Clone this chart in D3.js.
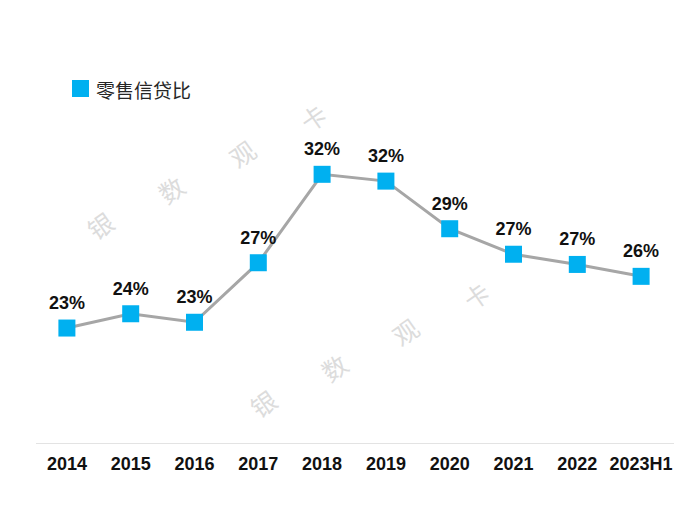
<!DOCTYPE html>
<html><head><meta charset="utf-8">
<script src="https://cdn.jsdelivr.net/npm/d3@7"></script>
<style>body{margin:0;background:#fff}svg{display:block}</style>
</head><body>
<svg id="c" width="700" height="525"></svg>
<script>
const categories = ["2014","2015","2016","2017","2018","2019","2020","2021","2022","2023H1"];
const ratioValues = [23.06, 23.9, 23.4, 26.9, 32.1, 31.7, 28.9, 27.4, 26.8, 26.1];
const seriesName = "零售信贷比";
const watermarkChars = ["银","数","观","卡"];

const svg = d3.select("#c");
const x = d3.scaleBand().domain(categories).range([35, 673]);
const y = d3.scaleLinear().domain([16.3, 34]).range([443, 142]);
const cx = d => x(d) + x.bandwidth()/2;

// watermark
const wmGroups = [{x0:100,y0:225},{x0:263,y0:403}];
wmGroups.forEach(g=>{
  watermarkChars.forEach((ch,i)=>{
    const px = g.x0 + i*71, py = g.y0 - i*36;
    svg.append("text").attr("transform",`translate(${px},${py}) rotate(-35)`)
      .attr("text-anchor","middle").attr("dominant-baseline","central")
      .attr("font-family","Noto Sans CJK SC").attr("font-size",25)
      .attr("fill","#dcdcdc").text(ch);
  });
});

// baseline axis
const xAxis = d3.axisBottom(x).tickSize(0).tickPadding(14);
const ax = svg.append("g").attr("transform","translate(0,443)").call(xAxis);
ax.select(".domain").attr("stroke","#e3e3e3").attr("stroke-width",1.2).attr("d","M36,0.5H674");
ax.selectAll("text").attr("font-family","Liberation Sans").attr("font-weight","bold")
  .attr("font-size",18).attr("fill","#111");

// line
const data = categories.map((c,i)=>({c,v:ratioValues[i]}));
svg.append("path").datum(data).attr("fill","none").attr("stroke","#a6a6a6").attr("stroke-width",3)
  .attr("d", d3.line().x(d=>cx(d.c)).y(d=>y(d.v)));

// markers
const s = 17;
svg.selectAll("rect.m").data(data).join("rect").attr("class","m")
  .attr("x",d=>cx(d.c)-s/2).attr("y",d=>y(d.v)-s/2).attr("width",s).attr("height",s)
  .attr("fill","#00b0f0");

// labels
svg.selectAll("text.l").data(data).join("text").attr("class","l")
  .attr("x",d=>cx(d.c)).attr("y",d=>y(d.v)-19)
  .attr("text-anchor","middle").attr("font-family","Liberation Sans").attr("font-weight","bold")
  .attr("font-size",18).attr("fill","#111").text(d=>d3.format(".0f")(d.v)+"%");

// legend
svg.append("rect").attr("x",72).attr("y",80).attr("width",17).attr("height",17).attr("fill","#00b0f0");
svg.append("text").attr("x",96).attr("y",89).attr("dominant-baseline","central")
  .attr("font-family","Noto Sans CJK SC").attr("font-size",19).attr("fill","#262626").text(seriesName);
</script>
</body></html>
